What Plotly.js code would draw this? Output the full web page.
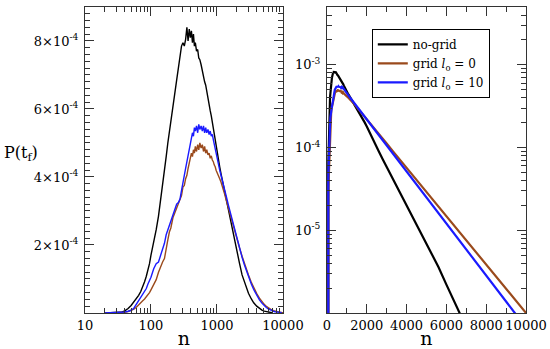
<!DOCTYPE html>
<html>
<head>
<meta charset="utf-8">
<script src="https://cdn.plot.ly/plotly-3.0.1.min.js"></script>
<style>
html,body{margin:0;padding:0;background:#fff;}
#chart{width:550px;height:349px;}
</style>
</head>
<body>
<div id="chart"></div>
<script>
// n values (shared by all series)
const n = [20,30,35,40,45,50,55,60,65,70,
  75,80,85,90,95,100,110,120,130,140,
  150,160,170,180,190,200,215,230,245,260,
  275,290,305,320,335,350,365,380,395,410,
  425,440,455,470,490,510,530,550,575,600,
  625,650,675,700,730,760,790,820,850,880,
  910,940,970,1000,1050,1100,1150,1200,1300,1400,
  1500,1600,1700,1800,1900,2000,2200,2400,2600,2800,
  3000,3300,3600,4000,4400,4800,5200,5600,6000,6400,
  6800,7200,7600,8000,8400,8800,9200,9600,10000];

// P(t_f) in units of 1e-4
const noGrid = [0,0.01,0.02,0.06,0.13,0.22,0.32,0.42,0.52,0.63,
  0.76,0.92,1.08,1.25,1.45,1.7,2.05,2.45,2.85,3.3,
  3.75,4.2,4.6,5.0,5.35,5.7,6.1,6.5,6.85,7.2,
  7.55,7.85,7.95,7.85,8.05,8.4,8.0,8.35,8.1,8.3,
  7.95,8.2,7.85,7.95,7.7,7.75,7.5,7.45,7.3,7.1,
  7.0,6.8,6.7,6.5,6.3,6.1,5.95,5.8,5.6,5.45,
  5.3,5.1,4.95,4.8,4.5,4.3,4.1,3.92,3.6,3.28,
  3.0,2.75,2.5,2.25,2.0,1.8,1.45,1.12,0.9,0.72,
  0.58,0.42,0.30,0.20,0.13,0.083,0.055,0.036,0.022,0.0135,
  0.0085,null,null,null,null,null,null,null,null];

const grid0 = [0,0.005,0.01,0.02,0.04,0.07,0.11,0.17,0.24,0.33,
  0.36,0.41,0.47,0.52,0.6,0.68,0.82,0.98,1.2,1.38,
  1.5,1.6,1.95,2.15,2.38,2.5,2.8,2.95,3.1,3.2,
  3.3,3.45,3.7,3.75,3.95,4.05,4.25,4.45,4.55,4.7,
  4.6,4.8,4.7,4.9,4.75,4.95,4.8,5.0,4.85,4.95,
  4.75,4.9,4.7,4.8,4.65,4.7,4.55,4.62,4.5,4.45,
  4.35,4.3,4.2,4.15,4.05,3.95,3.85,3.75,3.51,3.28,
  3.06,2.86,2.68,2.50,2.34,2.19,1.91,1.67,1.46,1.28,
  1.117,0.912,0.745,0.569,0.435,0.332,0.254,0.194,0.148,0.113,
  0.0863,0.0659,0.0504,0.0385,0.0294,0.0224,0.0171,0.0131,0.01];

const grid10 = [0,0.01,0.02,0.03,0.05,0.08,0.14,0.25,0.38,0.48,
  0.55,0.62,0.72,0.85,0.95,1.05,1.3,1.45,1.5,1.7,
  1.85,2.05,2.3,2.45,2.6,2.7,2.9,3.1,3.2,3.25,
  3.35,3.6,3.9,4.05,4.25,4.45,4.6,4.8,5.0,5.1,
  5.3,5.2,5.45,5.35,5.5,5.3,5.55,5.4,5.5,5.35,
  5.5,5.3,5.45,5.3,5.4,5.25,5.35,5.2,5.25,5.1,
  4.95,4.8,4.65,4.55,4.35,4.2,4.05,3.92,3.64,3.39,
  3.15,2.93,2.73,2.54,2.36,2.19,1.90,1.64,1.42,1.23,
  1.064,0.857,0.689,0.515,0.386,0.289,0.216,0.162,0.121,0.0908,
  0.0679,0.0508,0.038,0.0285,0.0213,0.016,0.0119,0.0089,null];

const UNIT = 1e-4;
const seriesNames = ['no-grid', 'grid <i>l</i><sub>o</sub> = 0', 'grid <i>l</i><sub>o</sub> = 10'];
const seriesData = [noGrid, grid0, grid10];
const seriesColors = ['#000000', '#9a4a1c', '#1a1aff'];

const leftXTicks = [10, 100, 1000, 10000];
const leftXText = ['10', '100', '1000', '10000'];
const leftYTicks = [2e-4, 4e-4, 6e-4, 8e-4];
const leftYText = ['2×10<sup>-4</sup>', '4×10<sup>-4</sup>', '6×10<sup>-4</sup>', '8×10<sup>-4</sup>'];
const rightXTicks = [0, 2000, 4000, 6000, 8000, 10000];
const rightXText = ['0', '2000', '4000', '6000', '8000', '10000'];
const rightYTicks = [1e-5, 1e-4, 1e-3];
const rightYText = ['10<sup>-5</sup>', '10<sup>-4</sup>', '10<sup>-3</sup>'];

const toP = arr => arr.map(v => v === null ? null : v * UNIT);

const traces = [];
seriesData.forEach((d, i) => {
  traces.push({x: n, y: toP(d), xaxis: 'x', yaxis: 'y', type: 'scatter', mode: 'lines',
    line: {color: seriesColors[i], width: 1.4}, showlegend: false, name: seriesNames[i]});
});
seriesData.forEach((d, i) => {
  traces.push({x: n, y: toP(d), xaxis: 'x2', yaxis: 'y2', type: 'scatter', mode: 'lines',
    line: {color: seriesColors[i], width: 2.2}, showlegend: true, name: seriesNames[i]});
});

const FONT = 'DejaVu Serif';
const axBase = {
  showline: true, linecolor: '#333', linewidth: 1, mirror: 'ticks',
  ticks: 'inside', ticklen: 9, tickcolor: '#333', tickwidth: 1,
  showgrid: false, zeroline: false, tickangle: 0,
  tickfont: {family: FONT, size: 13, color: '#000'}
};

const layout = {
  width: 550, height: 349,
  margin: {l: 0, r: 0, t: 0, b: 0},
  paper_bgcolor: '#fff', plot_bgcolor: '#fff',
  font: {family: FONT, color: '#000'},
  xaxis: Object.assign({}, axBase, {
    domain: [0.1545, 0.5145], type: 'log', range: [1, 4],
    tickmode: 'array', tickvals: leftXTicks, ticktext: leftXText,
    minor: {ticks: 'inside', ticklen: 5, tickcolor: '#333', dtick: 'D1'},
    title: {text: 'n', font: {family: FONT, size: 19}, standoff: 0},
    anchor: 'y'
  }),
  yaxis: Object.assign({}, axBase, {
    domain: [0.1032, 0.980], range: [0, 9e-4],
    tickmode: 'array', tickvals: leftYTicks, ticktext: leftYText,
    minor: {ticks: 'inside', ticklen: 5, tickcolor: '#333', dtick: 2e-5},
    ticklabelstandoff: 3,
    anchor: 'x'
  }),
  xaxis2: Object.assign({}, axBase, {
    domain: [0.5945, 0.9564], range: [0, 10000],
    tickmode: 'array', tickvals: rightXTicks, ticktext: rightXText,
    minor: {ticks: 'inside', ticklen: 5, tickcolor: '#333', dtick: 1000},
    title: {text: 'n', font: {family: FONT, size: 19}, standoff: 0},
    anchor: 'y2'
  }),
  yaxis2: Object.assign({}, axBase, {
    domain: [0.1032, 0.980], type: 'log', range: [-6, -2.301],
    tickmode: 'array', tickvals: rightYTicks, ticktext: rightYText,
    minor: {ticks: 'inside', ticklen: 5, tickcolor: '#333', dtick: 'D1'},
    ticklabelstandoff: 3,
    anchor: 'x2'
  }),
  legend: {
    x: 0.676, y: 0.917, xanchor: 'left', yanchor: 'top',
    bordercolor: '#000', borderwidth: 1, bgcolor: '#fff',
    font: {family: FONT, size: 12, color: '#000'},
    tracegroupgap: 0, itemwidth: 30
  },
  annotations: [{
    xref: 'paper', yref: 'paper', x: 0.004, y: 1 - 153/349, xanchor: 'left', yanchor: 'middle',
    text: 'P(t<sub>f</sub>)', showarrow: false, font: {family: FONT, size: 16, color: '#000'}
  }]
};

Plotly.newPlot('chart', traces, layout, {displayModeBar: false, staticPlot: true});
</script>
</body>
</html>
